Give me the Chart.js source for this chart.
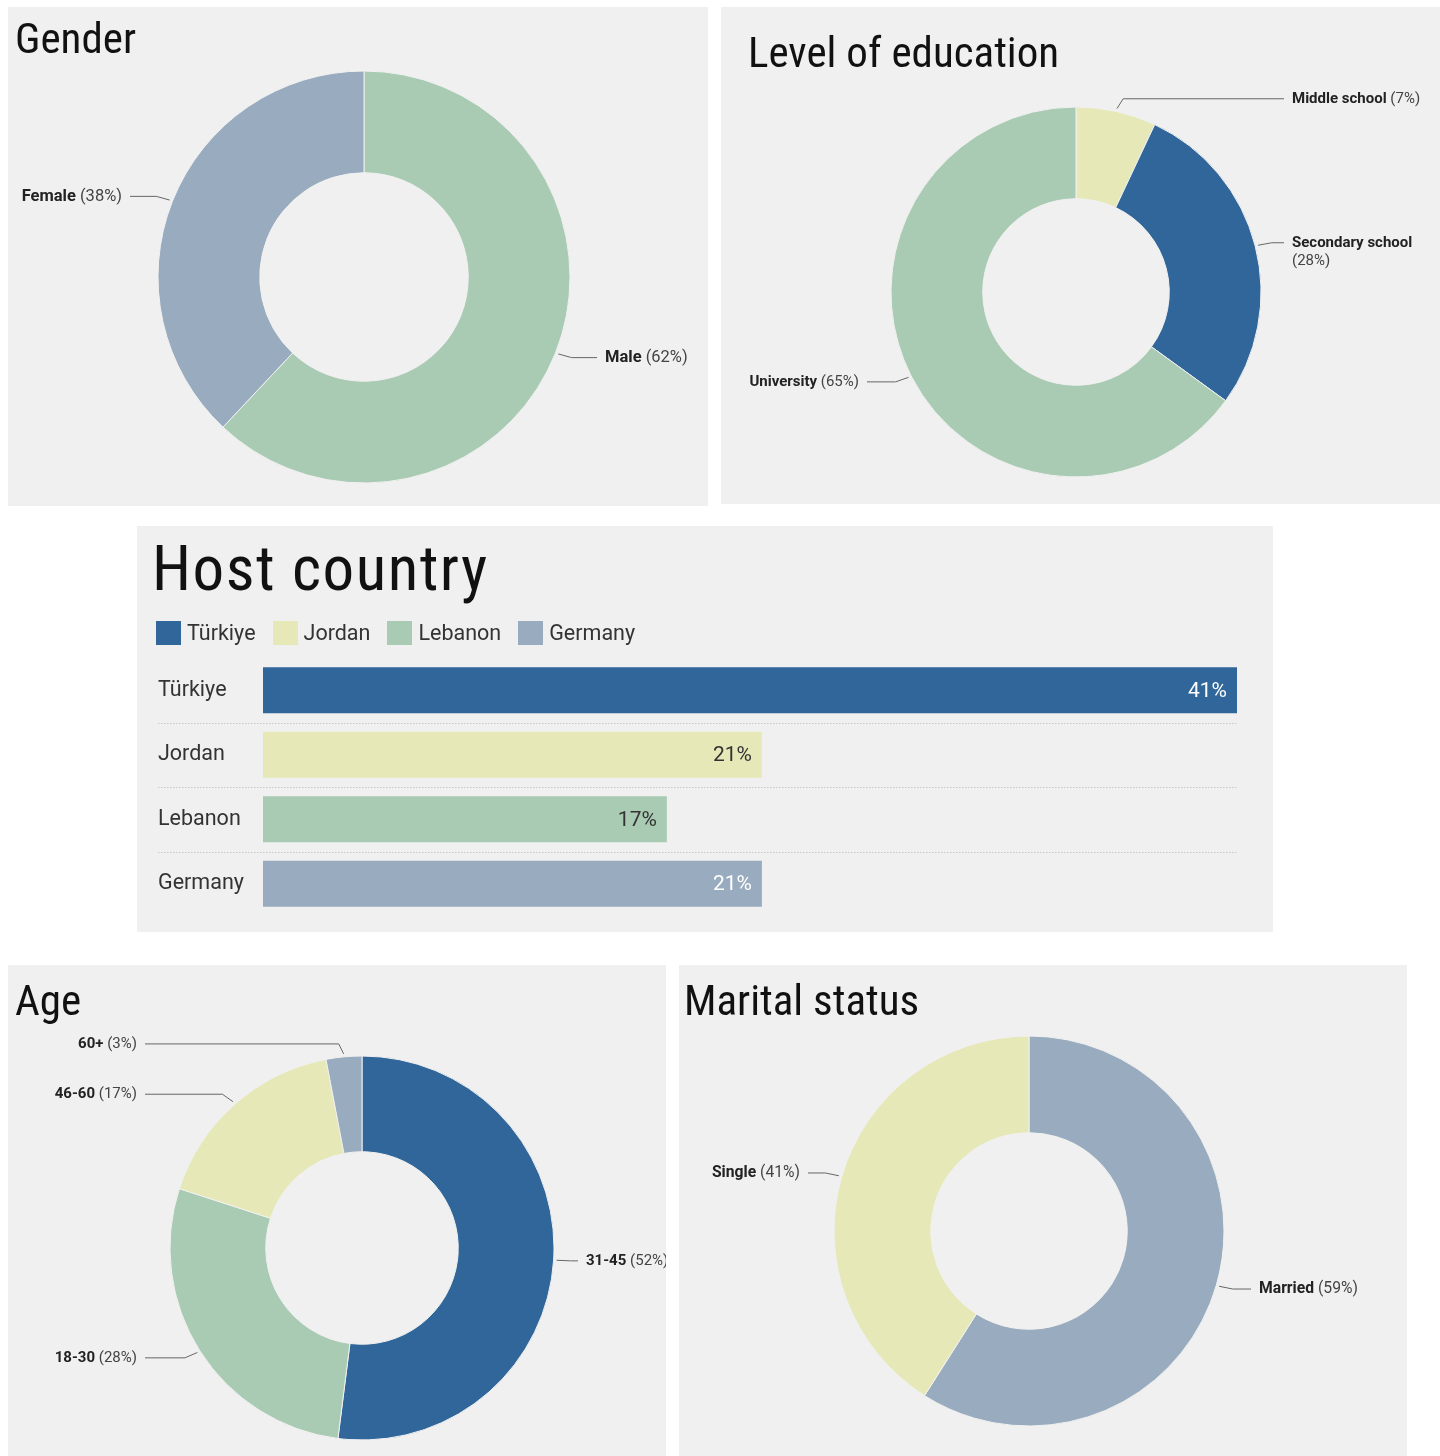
<!DOCTYPE html>
<html>
<head>
<meta charset="utf-8">
<script src="https://cdn.jsdelivr.net/npm/chart.js@4.4.0/dist/chart.umd.min.js"></script>
<style>
  body { margin: 0; background: #fff; width: 1440px; height: 1456px; position: relative; font-family: Roboto, sans-serif; }
  .panel { position: absolute; background: #f0f0f0; overflow: hidden; }
  .panel canvas { position: absolute; left: 0; top: 0; }
  .title { position: absolute; font-family: "Roboto Condensed", "Liberation Sans Narrow", Roboto, sans-serif; font-size: 43px; line-height: 1; color: #111; white-space: nowrap; z-index: 2; }
  .legend { position: absolute; left: 19px; top: 94px; display: flex; align-items: center; font-size: 21.5px; color: #333; z-index: 2; }
  .legend span.box { display: inline-block; width: 25px; height: 24px; margin-right: 6px; }
  .legend span.item { display: flex; align-items: center; margin-right: 17px; }
</style>
</head>
<body>
<div class="panel" id="p-gender" style="left:8px;top:7px;width:700px;height:499px">
  <div class="title" style="left:7px;top:10px">Gender</div>
  <canvas id="gender" width="700" height="499"></canvas>
</div>
<div class="panel" id="p-edu" style="left:721px;top:7px;width:719px;height:497px">
  <div class="title" style="left:27px;top:24px">Level of education</div>
  <canvas id="education" width="719" height="497"></canvas>
</div>
<div class="panel" id="p-host" style="left:137px;top:526px;width:1136px;height:406px">
  <div class="title" style="left:15px;top:11px;font-size:63px;letter-spacing:1.5px">Host country</div>
  <div class="legend" id="hostLegend"></div>
  <canvas id="host" width="1136" height="406"></canvas>
</div>
<div class="panel" id="p-age" style="left:8px;top:965px;width:658px;height:491px">
  <div class="title" style="left:7px;top:14px">Age</div>
  <canvas id="age" width="658" height="491"></canvas>
</div>
<div class="panel" id="p-marital" style="left:679px;top:965px;width:728px;height:491px">
  <div class="title" style="left:5px;top:14px">Marital status</div>
  <canvas id="marital" width="728" height="491"></canvas>
</div>

<script>
const genderLabels = ["Male", "Female"];
const genderValues = [62, 38];

const educationLabels = ["Middle school", "Secondary school", "University"];
const educationValues = [7, 28, 65];

const hostLabels = ["Türkiye", "Jordan", "Lebanon", "Germany"];
const hostValues = [41, 21, 17, 21];

const ageLabels = ["31-45", "18-30", "46-60", "60+"];
const ageValues = [52, 28, 17, 3];

const maritalLabels = ["Married", "Single"];
const maritalValues = [59, 41];

const BLUE = "#30669a", YELLOW = "#e6e9b7", GREEN = "#aacbb3", GREY = "#99abbe";

Chart.defaults.font.family = "Roboto";
Chart.defaults.animation = false;

// lignes de rappel + etiquettes autour des anneaux
const calloutPlugin = {
  id: "callouts",
  afterDatasetsDraw(chart, args, opts) {
    const ctx = chart.ctx;
    const meta = chart.getDatasetMeta(0);
    const labels = chart.data.labels;
    const values = chart.data.datasets[0].data;
    const fs = opts.fontSize || 15;
    ctx.save();
    meta.data.forEach((arc, i) => {
      const p = arc.getProps(["x", "y", "startAngle", "endAngle", "outerRadius"], true);
      const mid = (p.startAngle + p.endAngle) / 2;
      const c = Math.cos(mid), s = Math.sin(mid);
      const x0 = p.x + c * (p.outerRadius + 3), y0 = p.y + s * (p.outerRadius + 3);
      const x1 = p.x + c * (p.outerRadius + 13) + (c >= 0 ? 4 : -4), y1 = p.y + s * (p.outerRadius + 13);
      const right = c >= 0;
      const x2 = right ? opts.rightX - 8 : opts.leftX + 8;

      ctx.strokeStyle = "#666";
      ctx.lineWidth = 1;
      ctx.beginPath();
      ctx.moveTo(x0, y0);
      ctx.lineTo(x1, y1);
      ctx.lineTo(x2, y1);
      ctx.stroke();

      const name = labels[i];
      const pct = "(" + values[i] + "%)";
      ctx.font = "bold " + fs + "px Roboto";
      const wName = ctx.measureText(name + " ").width;
      ctx.font = fs + "px Roboto";
      const wPct = ctx.measureText(pct).width;
      ctx.textBaseline = "middle";
      ctx.textAlign = "left";

      const tx = right ? opts.rightX : opts.leftX - wName - wPct;
      const wrap = right && opts.wrap && tx + wName + wPct > chart.width - 6;
      ctx.font = "bold " + fs + "px Roboto";
      ctx.fillStyle = "#222";
      ctx.fillText(name, tx, y1);
      ctx.font = fs + "px Roboto";
      ctx.fillStyle = "#444";
      if (wrap) {
        ctx.fillText(pct, tx, y1 + 18);
      } else {
        ctx.fillText(pct, tx + wName, y1);
      }
    });
    ctx.restore();
  }
};

function creerAnneau(id, labels, values, colors, radius, cutout, padding, callouts) {
  return new Chart(document.getElementById(id), {
    type: "doughnut",
    data: {
      labels: labels,
      datasets: [{
        data: values,
        backgroundColor: colors,
        borderColor: "#f0f0f0",
        borderWidth: 1,
      }]
    },
    options: {
      responsive: false,
      events: [],
      radius: radius,
      cutout: cutout,
      layout: { padding: padding },
      plugins: {
        legend: { display: false },
        tooltip: { enabled: false },
        callouts: callouts,
      }
    },
    plugins: [calloutPlugin]
  });
}

creerAnneau("gender", genderLabels, genderValues, [GREEN, GREY], 206, 104,
  { left: 150, right: 138, top: 64, bottom: 23 }, { leftX: 114, rightX: 597, fontSize: 16.5 });

creerAnneau("education", educationLabels, educationValues, [YELLOW, BLUE, GREEN], 185, 93,
  { left: 170, right: 179, top: 100, bottom: 27 }, { leftX: 138, rightX: 571, wrap: true, fontSize: 15 });

creerAnneau("age", ageLabels, ageValues, [BLUE, GREEN, YELLOW, GREY], 192, 96,
  { left: 162, right: 112, top: 91, bottom: 16 }, { leftX: 129, rightX: 578, fontSize: 15 });

creerAnneau("marital", maritalLabels, maritalValues, [GREY, YELLOW], 195, 98,
  { left: 155, right: 183, top: 71, bottom: 30 }, { leftX: 121, rightX: 580, fontSize: 15.7 });

// barres horizontales du pays d'accueil
const hostColors = [BLUE, YELLOW, GREEN, GREY];
const hostTextColors = ["#fff", "#333", "#333", "#fff"];

const legendEl = document.getElementById("hostLegend");
hostLabels.forEach((l, i) => {
  const item = document.createElement("span");
  item.className = "item";
  item.innerHTML = '<span class="box" style="background:' + hostColors[i] + '"></span>' + l;
  legendEl.appendChild(item);
});

const separatorPlugin = {
  id: "separators",
  beforeDatasetsDraw(chart) {
    const ctx = chart.ctx;
    const yScale = chart.scales.y;
    ctx.save();
    ctx.strokeStyle = "#c8c8c8";
    ctx.lineWidth = 1;
    ctx.setLineDash([1.5, 1.5]);
    for (let i = 1; i < hostLabels.length; i++) {
      const y = Math.round((yScale.getPixelForValue(i - 1) + yScale.getPixelForValue(i)) / 2) + 0.5;
      ctx.beginPath();
      ctx.moveTo(21, y);
      ctx.lineTo(chart.chartArea.right, y);
      ctx.stroke();
    }
    ctx.restore();
  }
};

const valueLabelPlugin = {
  id: "valueLabels",
  afterDatasetsDraw(chart) {
    const ctx = chart.ctx;
    const meta = chart.getDatasetMeta(0);
    ctx.save();
    ctx.font = "21px Roboto";
    ctx.textAlign = "right";
    ctx.textBaseline = "middle";
    meta.data.forEach((bar, i) => {
      ctx.fillStyle = hostTextColors[i];
      ctx.fillText(hostValues[i] + "%", bar.x - 10, bar.y + 1);
    });
    ctx.restore();
  }
};

new Chart(document.getElementById("host"), {
  type: "bar",
  data: {
    labels: hostLabels,
    datasets: [{
      data: hostValues,
      backgroundColor: hostColors,
      borderWidth: 0,
      barPercentage: 0.715,
      categoryPercentage: 1,
    }]
  },
  options: {
    responsive: false,
    events: [],
    indexAxis: "y",
    layout: { padding: { left: 21, right: 36, top: 132, bottom: 16 } },
    scales: {
      x: { display: false, min: 0, max: 41 },
      y: {
        grid: { display: false },
        border: { display: false },
        ticks: { font: { size: 21.5 }, color: "#333", crossAlign: "far", padding: 0 },
        afterFit(axis) { axis.width = 105; }
      }
    },
    plugins: {
      legend: { display: false },
      tooltip: { enabled: false },
    }
  },
  plugins: [separatorPlugin, valueLabelPlugin]
});
</script>
</body>
</html>
